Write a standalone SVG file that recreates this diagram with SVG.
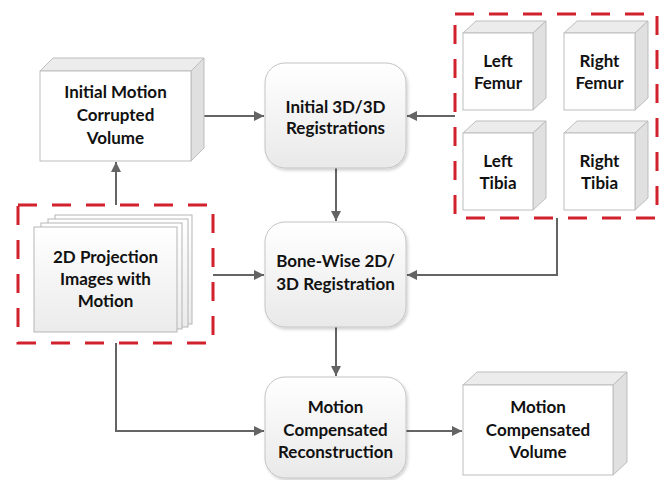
<svg xmlns="http://www.w3.org/2000/svg" width="666" height="480" viewBox="0 0 666 480">
  <style>
    .lbl { font-family: Lato, "Liberation Sans", sans-serif; font-weight: bold; font-size: 17px; fill: #111; text-anchor: middle; }
    .front { fill: #ffffff; stroke: #bdbdbd; stroke-width: 1; }
    .top { fill: #ececec; stroke: #bdbdbd; stroke-width: 1; }
    .side { fill: #e0e0e0; stroke: #bdbdbd; stroke-width: 1; }
    .proc { fill: url(#procFill); stroke: #c4c4c4; stroke-width: 1; filter: url(#soft); }
    .page { fill: url(#pageFill); stroke: #b5b5b5; stroke-width: 1; }
    .group { fill: none; stroke: #d0212d; stroke-width: 3; stroke-dasharray: 19 15; }
    .conn { fill: none; stroke: #646464; stroke-width: 2; }
  </style>
  <defs>
    <linearGradient id="procFill" x1="0" y1="0" x2="0" y2="1">
      <stop offset="0" stop-color="#ffffff"/>
      <stop offset="1" stop-color="#e9e9e9"/>
    </linearGradient>
    <linearGradient id="pageFill" x1="0" y1="0" x2="0" y2="1">
      <stop offset="0" stop-color="#ffffff"/>
      <stop offset="1" stop-color="#ebebeb"/>
    </linearGradient>
    <filter id="soft" x="-10%" y="-10%" width="130%" height="130%">
      <feDropShadow dx="1.5" dy="2" stdDeviation="1.5" flood-color="#000" flood-opacity="0.18"/>
    </filter>
    <marker id="arrow" markerUnits="userSpaceOnUse" markerWidth="11" markerHeight="11" refX="10" refY="5" orient="auto">
      <path d="M0,0 L10,5 L0,10 z" fill="#646464"/>
    </marker>
  </defs>

  <!-- connectors -->
  <g id="connectors">
    <path class="conn" d="M191 116 H264" marker-end="url(#arrow)"/>
    <path class="conn" d="M455 116 H407" marker-end="url(#arrow)"/>
    <path class="conn" d="M336 168 V221" marker-end="url(#arrow)"/>
    <path class="conn" d="M557 218 V275 H407" marker-end="url(#arrow)"/>
    <path class="conn" d="M213 275 H264" marker-end="url(#arrow)"/>
    <path class="conn" d="M116 205 V162" marker-end="url(#arrow)"/>
    <path class="conn" d="M336 327 V376" marker-end="url(#arrow)"/>
    <path class="conn" d="M116 343 V431 H264" marker-end="url(#arrow)"/>
    <path class="conn" d="M406 431 H462" marker-end="url(#arrow)"/>
  </g>

  <!-- initial motion corrupted volume -->
  <g id="initial-volume">
    <polygon class="top" points="40,71 53,58 204,58 191,71"/>
    <polygon class="side" points="191,71 204,58 204,148 191,161"/>
    <rect class="front" x="40" y="71" width="151" height="90"/>
    <text class="lbl" x="115.5" y="98">Initial Motion</text>
    <text class="lbl" x="115.5" y="121">Corrupted</text>
    <text class="lbl" x="115.5" y="144">Volume</text>
  </g>

  <!-- initial 3D/3D registrations -->
  <g id="initial-registration">
    <rect class="proc" x="265" y="63" width="141" height="105" rx="20" ry="20"/>
    <text class="lbl" x="335.5" y="113">Initial 3D/3D</text>
    <text class="lbl" x="335.5" y="134">Registrations</text>
  </g>

  <!-- bone segmentations group -->
  <g id="bones">
    <rect class="group" x="455" y="14" width="202" height="204"/>
    <g id="left-femur">
      <polygon class="top" points="463,33 476,21 546,21 533,33"/>
      <polygon class="side" points="533,33 546,21 546,98 533,110"/>
      <rect class="front" x="463" y="33" width="70" height="77"/>
      <text class="lbl" x="498" y="67">Left</text>
      <text class="lbl" x="498" y="89">Femur</text>
    </g>
    <g id="right-femur">
      <polygon class="top" points="564,33 577,21 648,21 635,33"/>
      <polygon class="side" points="635,33 648,21 648,98 635,110"/>
      <rect class="front" x="564" y="33" width="71" height="77"/>
      <text class="lbl" x="599.5" y="67">Right</text>
      <text class="lbl" x="599.5" y="89">Femur</text>
    </g>
    <g id="left-tibia">
      <polygon class="top" points="463,133 476,121 546,121 533,133"/>
      <polygon class="side" points="533,133 546,121 546,198 533,210"/>
      <rect class="front" x="463" y="133" width="70" height="77"/>
      <text class="lbl" x="498" y="167">Left</text>
      <text class="lbl" x="498" y="189">Tibia</text>
    </g>
    <g id="right-tibia">
      <polygon class="top" points="564,133 577,121 648,121 635,133"/>
      <polygon class="side" points="635,133 648,121 648,198 635,210"/>
      <rect class="front" x="564" y="133" width="71" height="77"/>
      <text class="lbl" x="599.5" y="167">Right</text>
      <text class="lbl" x="599.5" y="189">Tibia</text>
    </g>
  </g>

  <!-- 2D projection images -->
  <g id="projections">
    <rect class="group" x="18" y="205" width="195" height="138"/>
    <rect class="page" x="55" y="215" width="137" height="109"/>
    <rect class="page" x="48" y="219" width="140" height="108"/>
    <rect class="page" x="41" y="223" width="141" height="106"/>
    <rect class="page" x="34" y="227" width="143" height="105"/>
    <text class="lbl" x="105.5" y="263">2D Projection</text>
    <text class="lbl" x="105.5" y="285">Images with</text>
    <text class="lbl" x="105.5" y="307">Motion</text>
  </g>

  <!-- bone-wise 2D/3D registration -->
  <g id="bonewise-registration">
    <rect class="proc" x="265" y="222" width="141" height="105" rx="20" ry="20"/>
    <text class="lbl" x="335.5" y="267">Bone-Wise 2D/</text>
    <text class="lbl" x="335.5" y="290">3D Registration</text>
  </g>

  <!-- motion compensated reconstruction -->
  <g id="reconstruction">
    <rect class="proc" x="265" y="377" width="141" height="101" rx="20" ry="20"/>
    <text class="lbl" x="335.5" y="413">Motion</text>
    <text class="lbl" x="335.5" y="436">Compensated</text>
    <text class="lbl" x="335.5" y="458">Reconstruction</text>
  </g>

  <!-- motion compensated volume -->
  <g id="compensated-volume">
    <polygon class="top" points="463,385 477,372 627,372 613,385"/>
    <polygon class="side" points="613,385 627,372 627,462 613,475"/>
    <rect class="front" x="463" y="385" width="150" height="90"/>
    <text class="lbl" x="538" y="413">Motion</text>
    <text class="lbl" x="538" y="436">Compensated</text>
    <text class="lbl" x="538" y="458">Volume</text>
  </g>
</svg>
